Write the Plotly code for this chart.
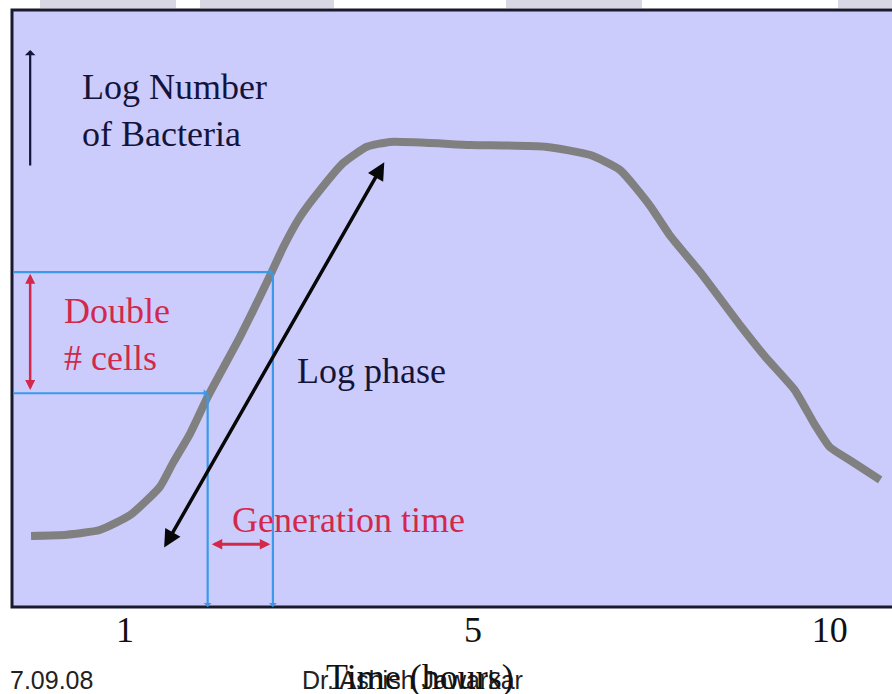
import plotly.graph_objects as go

# bacterial growth curve (time in drawing units, log count 0-10)
TIME = [-0.08, 0.33, 0.71, 1.06, 1.40, 1.55, 1.75, 1.95, 2.32, 2.67, 2.82, 3.01,
        3.24, 3.51, 3.78, 4.05, 4.97, 5.83, 6.35, 6.69, 7.03, 7.26, 7.61, 8.07,
        8.36, 8.70, 8.93, 9.10, 9.33, 9.68]
LOG_N = [1.19, 1.21, 1.29, 1.54, 2.01, 2.41, 2.91, 3.52, 4.52, 5.56, 6.03, 6.53,
         6.98, 7.44, 7.71, 7.79, 7.74, 7.71, 7.57, 7.32, 6.73, 6.23, 5.61, 4.72,
         4.19, 3.63, 3.05, 2.68, 2.46, 2.13]

TICK_POS = [1, 5, 9.1]
TICK_TEXT = ["1", "5", "10"]

# doubling guides
T_LOW, T_HIGH = 1.95, 2.70
N_LOW, N_HIGH = 3.58, 5.61
# log phase arrow
LOG_START = (1.44, 0.97)
LOG_END = (3.98, 7.45)

BG = "#ccccfc"
INK = "#14143a"
RED = "#d2284a"
BLUE = "#3a9ae8"
SERIF = "Liberation Serif, Times New Roman, serif"
SANS = "Liberation Sans, Arial, sans-serif"

fig = go.Figure()
fig.add_trace(go.Scatter(
    x=TIME, y=LOG_N, mode="lines",
    line=dict(color="#808080", width=8, shape="spline", smoothing=0.5),
    hoverinfo="skip", showlegend=False,
))

ann = []


def arrow(x0, y0, x1, y1, color, width, head=2, size=1.0, both=False):
    ann.append(dict(
        x=x1, y=y1, ax=x0, ay=y0, xref="x", yref="y", axref="x", ayref="y",
        text="", showarrow=True, arrowcolor=color, arrowwidth=width,
        arrowhead=head, startarrowhead=head, arrowsize=size, startarrowsize=size,
        arrowside="end+start" if both else "end", standoff=0, startstandoff=0,
    ))


# blue guide lines: axis -> curve, curve -> time axis
x_lo = -0.3
arrow(x_lo, N_LOW, T_LOW, N_LOW, BLUE, 2.2, head=1, size=0.6)
arrow(x_lo, N_HIGH, T_HIGH, N_HIGH, BLUE, 2.2, head=1, size=0.6)
arrow(T_LOW, N_LOW, T_LOW, 0.0, BLUE, 2.2, head=1, size=0.6)
arrow(T_HIGH, N_HIGH, T_HIGH, 0.0, BLUE, 2.2, head=1, size=0.6)

# red double arrows
arrow(-0.09, N_LOW + 0.03, -0.09, N_HIGH - 0.03, RED, 2.5, head=2, size=0.8, both=True)
arrow(T_LOW + 0.03, 1.05, T_HIGH - 0.03, 1.05, RED, 3, head=2, size=0.7, both=True)

# log phase arrow
arrow(LOG_START[0], LOG_START[1], LOG_END[0], LOG_END[1], "#080808", 3.5,
      head=2, size=1.0, both=True)

# y direction arrow
arrow(-0.09, 7.37, -0.09, 9.33, INK, 2.2, head=1, size=0.8)


def label(x, y, text, color, size=36, font=SERIF, xref="x", yref="y"):
    ann.append(dict(
        x=x, y=y, xref=xref, yref=yref, text=text, showarrow=False,
        xanchor="left", yanchor="middle", align="left",
        font=dict(family=font, size=size, color=color),
    ))


label(0.48, 8.32, "Log Number<br>of Bacteria", INK)
label(0.28, 4.56, "Double<br># cells", RED)
label(2.95, 3.95, "Log phase", INK)
label(2.21, 1.46, "Generation time", RED)

# footer
label(-0.005, -0.123, "7.09.08", "#222222", size=25, font=SANS, xref="paper", yref="paper")
label(0.327, -0.123, "Dr. Ashish Jawarkar", "#222222", size=25, font=SANS,
      xref="paper", yref="paper")
ann.append(dict(
    x=0.464, y=-0.117, xref="paper", yref="paper", text="Time (hours)", showarrow=False,
    xanchor="center", yanchor="middle",
    font=dict(family=SERIF, size=36, color="#111111"),
))

shapes = [
    # plot frame (right edge runs off the page)
    dict(type="rect", xref="paper", yref="paper", x0=0, y0=0, x1=1.05, y1=1,
         line=dict(color="#1a1a2e", width=3), layer="above"),
]
# light strip at the very top of the slide
for a, b in [(40, 176), (200, 334), (506, 642), (838, 892)]:
    shapes.append(dict(type="rect", xref="paper", yref="paper",
                       x0=(a - 12) / 880, x1=(b - 12) / 880, y0=1.003, y1=1.02,
                       fillcolor="#d8d8e4", line=dict(width=0), layer="below"))

fig.update_layout(
    width=892, height=694,
    margin=dict(l=12, r=0, t=10, b=87),
    paper_bgcolor="white", plot_bgcolor=BG,
    showlegend=False,
    xaxis=dict(range=[-0.299, 9.816], tickvals=TICK_POS, ticktext=TICK_TEXT,
               showgrid=False, zeroline=False, ticks="", ticklabelstandoff=-2,
               tickfont=dict(family=SERIF, size=36, color="#111111"), fixedrange=True),
    yaxis=dict(range=[0, 10], showgrid=False, zeroline=False, showticklabels=False,
               ticks="", fixedrange=True),
    annotations=ann,
    shapes=shapes,
)

fig.write_html("out.html", config={"displayModeBar": False},
               post_script="document.body.style.margin='0';")
